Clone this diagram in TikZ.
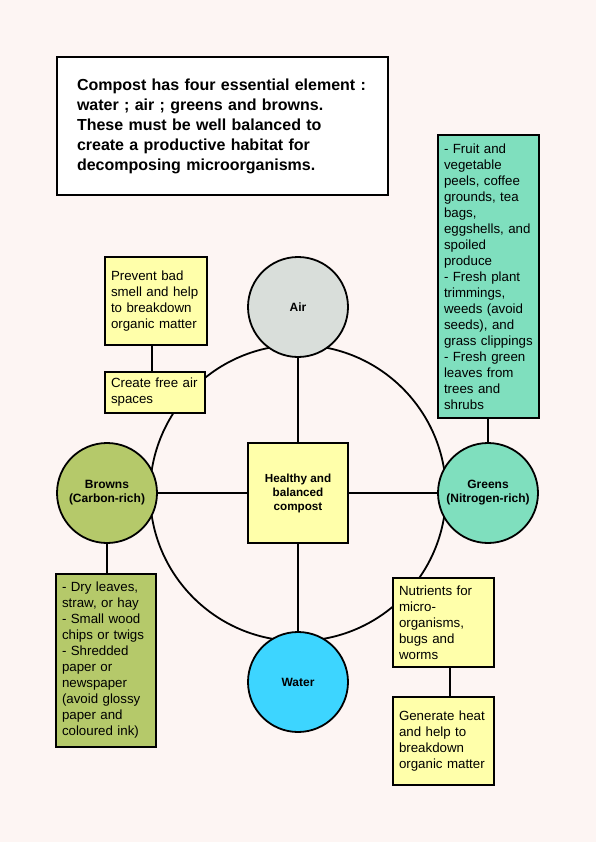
\documentclass[tikz,border=0pt]{standalone}
\usepackage{fontspec}
\setmainfont{Liberation Sans}
\definecolor{bgc}{HTML}{FDF5F3}
\definecolor{yel}{HTML}{FFFFAA}
\definecolor{grn}{HTML}{7FDFBE}
\definecolor{brn}{HTML}{B5C96A}
\definecolor{wat}{HTML}{3DD5FF}
\definecolor{airc}{HTML}{D9DEDA}
\tikzset{
  txtbox/.style={draw=black, line width=2pt, rectangle, align=left, inner xsep=6pt, inner ysep=0pt,
    font=\fontsize{13.3}{16}\selectfont},
  elem/.style={draw=black, line width=1.8pt, circle, minimum size=100pt, inner sep=0pt, align=center,
    font=\bfseries\fontsize{12}{14}\selectfont},
  conn/.style={draw=black, line width=1.8pt}
}
\begin{document}
\begin{tikzpicture}[x=1pt,y=-1pt]
\fill[bgc] (0,0) rectangle (596,842);
\useasboundingbox (0,0) rectangle (596,842);
% big ring
\draw[conn] (298,493) circle (148);
% title box
\node[draw=black, line width=2pt, fill=white, rectangle, minimum width=331pt, minimum height=138pt,
  text width=291pt, align=left, inner xsep=20pt, font=\bfseries\fontsize{16}{20}\selectfont]
  (title) at (222.5,126) {Compost has four essential element :\\ water ; air ; greens and browns.\\ These must be well balanced to\\ create a productive habitat for\\ decomposing microorganisms.};
% centre
\node[draw=black, line width=2pt, fill=yel, rectangle, minimum width=100pt, minimum height=100pt, align=center,
  font=\bfseries\fontsize{11.7}{14}\selectfont] (centre) at (298,493) {Healthy and\\ balanced\\ compost};
% elements
\node[elem, fill=airc] (air) at (298,307) {Air};
\node[elem, fill=brn] (browns) at (107,493) {Browns\\ (Carbon-rich)};
\node[elem, fill=grn] (greens) at (488,493) {Greens\\ (Nitrogen-rich)};
\node[elem, fill=wat] (water) at (298,682) {Water};
% text boxes
\node[txtbox, fill=yel, minimum width=102pt, minimum height=88pt, text width=90pt] (prevent) at (156,301)
  {Prevent bad\\ smell and help\\ to breakdown\\ organic matter};
\node[txtbox, fill=yel, minimum width=100pt, minimum height=41pt, text width=88pt] (create) at (155,392.5)
  {Create free air\\ spaces};
\node[txtbox, fill=grn, minimum width=101pt, minimum height=283pt, text width=89pt] (greenlist) at (488.5,276.5)
  {- Fruit and\\ vegetable\\ peels, coffee\\ grounds, tea\\ bags,\\ eggshells, and\\ spoiled\\ produce\\ - Fresh plant\\ trimmings,\\ weeds (avoid\\ seeds), and\\ grass clippings\\ - Fresh green\\ leaves from\\ trees and\\ shrubs};
\node[txtbox, fill=brn, minimum width=100pt, minimum height=173pt, text width=88pt] (brownlist) at (106,660.5)
  {- Dry leaves,\\ straw, or hay\\ - Small wood\\ chips or twigs\\ - Shredded\\ paper or\\ newspaper\\ (avoid glossy\\ paper and\\ coloured ink)};
\node[txtbox, fill=yel, minimum width=101pt, minimum height=89pt, text width=89pt] (nutrients) at (443.5,622.5)
  {Nutrients for\\ micro-\\ organisms,\\ bugs and\\ worms};
\node[txtbox, fill=yel, minimum width=101pt, minimum height=88pt, text width=89pt] (generate) at (443.5,741)
  {Generate heat\\ and help to\\ breakdown\\ organic matter};
% connectors
\draw[conn] (air) -- (centre);
\draw[conn] (browns) -- (centre);
\draw[conn] (centre) -- (greens);
\draw[conn] (centre) -- (water);
\draw[conn] (prevent.south -| 152,0) -- (create.north -| 152,0);
\draw[conn] (greenlist.south -| 488,0) -- (greens);
\draw[conn] (browns) -- (brownlist.north -| 107,0);
\draw[conn] (nutrients.south -| 450,0) -- (generate.north -| 450,0);
\end{tikzpicture}
\end{document}
